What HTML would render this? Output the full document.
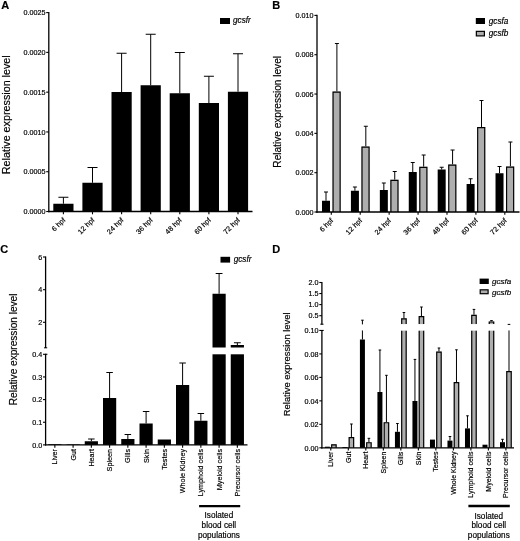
<!DOCTYPE html>
<html lang="en">
<head>
<meta charset="utf-8">
<title>Relative expression levels</title>
<style>
html,body{margin:0;padding:0;background:#fff;}
body{width:520px;height:541px;overflow:hidden;}
svg{display:block;}
svg text{font-family:'Liberation Sans', Arial, Helvetica, sans-serif;stroke:#000;stroke-width:0.18px;}
</style>
</head>
<body>
<svg width="520" height="541" viewBox="0 0 520 541" font-family='"Liberation Sans", Arial, Helvetica, sans-serif'>
<rect x="0" y="0" width="520" height="541" fill="#ffffff"/>
<text x="1.20" y="9.00" font-size="11" font-weight="bold" fill="#000">A</text>
<text x="9.70" y="114.75" font-size="10.75" text-anchor="middle" transform="rotate(-90 9.70 114.75)" fill="#000">Relative expression level</text>
<line x1="46.20" y1="211.50" x2="48.80" y2="211.50" stroke="#000" stroke-width="1.1"/>
<text x="45.40" y="214.20" font-size="7.2" text-anchor="end" fill="#000">0.0000</text>
<line x1="46.20" y1="171.72" x2="48.80" y2="171.72" stroke="#000" stroke-width="1.1"/>
<text x="45.40" y="174.42" font-size="7.2" text-anchor="end" fill="#000">0.0005</text>
<line x1="46.20" y1="131.94" x2="48.80" y2="131.94" stroke="#000" stroke-width="1.1"/>
<text x="45.40" y="134.64" font-size="7.2" text-anchor="end" fill="#000">0.0010</text>
<line x1="46.20" y1="92.16" x2="48.80" y2="92.16" stroke="#000" stroke-width="1.1"/>
<text x="45.40" y="94.86" font-size="7.2" text-anchor="end" fill="#000">0.0015</text>
<line x1="46.20" y1="52.38" x2="48.80" y2="52.38" stroke="#000" stroke-width="1.1"/>
<text x="45.40" y="55.08" font-size="7.2" text-anchor="end" fill="#000">0.0020</text>
<line x1="46.20" y1="12.60" x2="48.80" y2="12.60" stroke="#000" stroke-width="1.1"/>
<text x="45.40" y="15.30" font-size="7.2" text-anchor="end" fill="#000">0.0025</text>
<line x1="63.40" y1="203.75" x2="63.40" y2="197.25" stroke="#000" stroke-width="1.0"/>
<line x1="58.40" y1="197.25" x2="68.40" y2="197.25" stroke="#000" stroke-width="1.0"/>
<rect x="53.30" y="203.75" width="20.20" height="7.75" fill="#000"/>
<line x1="63.40" y1="211.50" x2="63.40" y2="214.30" stroke="#000" stroke-width="1.1"/>
<text x="65.80" y="220.50" font-size="7.2" text-anchor="end" transform="rotate(-45 65.80 220.50)" fill="#000">6 hpf</text>
<line x1="92.50" y1="182.75" x2="92.50" y2="167.50" stroke="#000" stroke-width="1.0"/>
<line x1="87.50" y1="167.50" x2="97.50" y2="167.50" stroke="#000" stroke-width="1.0"/>
<rect x="82.40" y="182.75" width="20.20" height="28.75" fill="#000"/>
<line x1="92.50" y1="211.50" x2="92.50" y2="214.30" stroke="#000" stroke-width="1.1"/>
<text x="94.90" y="220.50" font-size="7.2" text-anchor="end" transform="rotate(-45 94.90 220.50)" fill="#000">12 hpf</text>
<line x1="121.60" y1="92.00" x2="121.60" y2="53.25" stroke="#000" stroke-width="1.0"/>
<line x1="116.60" y1="53.25" x2="126.60" y2="53.25" stroke="#000" stroke-width="1.0"/>
<rect x="111.50" y="92.00" width="20.20" height="119.50" fill="#000"/>
<line x1="121.60" y1="211.50" x2="121.60" y2="214.30" stroke="#000" stroke-width="1.1"/>
<text x="124.00" y="220.50" font-size="7.2" text-anchor="end" transform="rotate(-45 124.00 220.50)" fill="#000">24 hpf</text>
<line x1="150.70" y1="85.25" x2="150.70" y2="34.25" stroke="#000" stroke-width="1.0"/>
<line x1="145.70" y1="34.25" x2="155.70" y2="34.25" stroke="#000" stroke-width="1.0"/>
<rect x="140.60" y="85.25" width="20.20" height="126.25" fill="#000"/>
<line x1="150.70" y1="211.50" x2="150.70" y2="214.30" stroke="#000" stroke-width="1.1"/>
<text x="153.10" y="220.50" font-size="7.2" text-anchor="end" transform="rotate(-45 153.10 220.50)" fill="#000">36 hpf</text>
<line x1="179.80" y1="93.25" x2="179.80" y2="52.50" stroke="#000" stroke-width="1.0"/>
<line x1="174.80" y1="52.50" x2="184.80" y2="52.50" stroke="#000" stroke-width="1.0"/>
<rect x="169.70" y="93.25" width="20.20" height="118.25" fill="#000"/>
<line x1="179.80" y1="211.50" x2="179.80" y2="214.30" stroke="#000" stroke-width="1.1"/>
<text x="182.20" y="220.50" font-size="7.2" text-anchor="end" transform="rotate(-45 182.20 220.50)" fill="#000">48 hpf</text>
<line x1="208.90" y1="103.00" x2="208.90" y2="76.25" stroke="#000" stroke-width="1.0"/>
<line x1="203.90" y1="76.25" x2="213.90" y2="76.25" stroke="#000" stroke-width="1.0"/>
<rect x="198.80" y="103.00" width="20.20" height="108.50" fill="#000"/>
<line x1="208.90" y1="211.50" x2="208.90" y2="214.30" stroke="#000" stroke-width="1.1"/>
<text x="211.30" y="220.50" font-size="7.2" text-anchor="end" transform="rotate(-45 211.30 220.50)" fill="#000">60 hpf</text>
<line x1="238.00" y1="91.75" x2="238.00" y2="53.75" stroke="#000" stroke-width="1.0"/>
<line x1="233.00" y1="53.75" x2="243.00" y2="53.75" stroke="#000" stroke-width="1.0"/>
<rect x="227.90" y="91.75" width="20.20" height="119.75" fill="#000"/>
<line x1="238.00" y1="211.50" x2="238.00" y2="214.30" stroke="#000" stroke-width="1.1"/>
<text x="240.40" y="220.50" font-size="7.2" text-anchor="end" transform="rotate(-45 240.40 220.50)" fill="#000">72 hpf</text>
<line x1="48.80" y1="12.05" x2="48.80" y2="212.15" stroke="#000" stroke-width="1.3"/>
<line x1="48.15" y1="211.50" x2="252.50" y2="211.50" stroke="#000" stroke-width="1.3"/>
<rect x="220.00" y="18.00" width="10.00" height="6.00" fill="#000"/>
<text x="233.00" y="23.30" font-size="8.2" font-style="italic" fill="#000">gcsfr</text>
<text x="272.30" y="9.00" font-size="11" font-weight="bold" fill="#000">B</text>
<text x="281.10" y="111.80" font-size="10.1" text-anchor="middle" transform="rotate(-90 281.10 111.80)" fill="#000">Relative expression level</text>
<line x1="314.40" y1="212.00" x2="317.00" y2="212.00" stroke="#000" stroke-width="1.1"/>
<text x="313.60" y="214.70" font-size="7.2" text-anchor="end" fill="#000">0.000</text>
<line x1="314.40" y1="172.68" x2="317.00" y2="172.68" stroke="#000" stroke-width="1.1"/>
<text x="313.60" y="175.38" font-size="7.2" text-anchor="end" fill="#000">0.002</text>
<line x1="314.40" y1="133.36" x2="317.00" y2="133.36" stroke="#000" stroke-width="1.1"/>
<text x="313.60" y="136.06" font-size="7.2" text-anchor="end" fill="#000">0.004</text>
<line x1="314.40" y1="94.04" x2="317.00" y2="94.04" stroke="#000" stroke-width="1.1"/>
<text x="313.60" y="96.74" font-size="7.2" text-anchor="end" fill="#000">0.006</text>
<line x1="314.40" y1="54.72" x2="317.00" y2="54.72" stroke="#000" stroke-width="1.1"/>
<text x="313.60" y="57.42" font-size="7.2" text-anchor="end" fill="#000">0.008</text>
<line x1="314.40" y1="15.40" x2="317.00" y2="15.40" stroke="#000" stroke-width="1.1"/>
<text x="313.60" y="18.10" font-size="7.2" text-anchor="end" fill="#000">0.010</text>
<line x1="326.00" y1="200.75" x2="326.00" y2="192.00" stroke="#000" stroke-width="1.0"/>
<line x1="324.00" y1="192.00" x2="328.00" y2="192.00" stroke="#000" stroke-width="1.0"/>
<rect x="322.00" y="200.75" width="8.00" height="11.25" fill="#000"/>
<line x1="336.90" y1="91.50" x2="336.90" y2="43.50" stroke="#000" stroke-width="1.0"/>
<line x1="334.90" y1="43.50" x2="338.90" y2="43.50" stroke="#000" stroke-width="1.0"/>
<rect x="332.50" y="91.50" width="8.20" height="120.50" fill="#aeaeae"/>
<path d="M333.07 212.00V92.08H340.12V212.00" fill="none" stroke="#000" stroke-width="1.15"/>
<line x1="331.30" y1="212.00" x2="331.30" y2="214.80" stroke="#000" stroke-width="1.1"/>
<text x="333.70" y="221.00" font-size="7.2" text-anchor="end" transform="rotate(-45 333.70 221.00)" fill="#000">6 hpf</text>
<line x1="354.92" y1="190.75" x2="354.92" y2="187.00" stroke="#000" stroke-width="1.0"/>
<line x1="352.92" y1="187.00" x2="356.92" y2="187.00" stroke="#000" stroke-width="1.0"/>
<rect x="350.92" y="190.75" width="8.00" height="21.25" fill="#000"/>
<line x1="365.82" y1="146.50" x2="365.82" y2="126.25" stroke="#000" stroke-width="1.0"/>
<line x1="363.82" y1="126.25" x2="367.82" y2="126.25" stroke="#000" stroke-width="1.0"/>
<rect x="361.42" y="146.50" width="8.20" height="65.50" fill="#aeaeae"/>
<path d="M362.00 212.00V147.07H369.05V212.00" fill="none" stroke="#000" stroke-width="1.15"/>
<line x1="360.22" y1="212.00" x2="360.22" y2="214.80" stroke="#000" stroke-width="1.1"/>
<text x="362.62" y="221.00" font-size="7.2" text-anchor="end" transform="rotate(-45 362.62 221.00)" fill="#000">12 hpf</text>
<line x1="383.84" y1="190.00" x2="383.84" y2="183.00" stroke="#000" stroke-width="1.0"/>
<line x1="381.84" y1="183.00" x2="385.84" y2="183.00" stroke="#000" stroke-width="1.0"/>
<rect x="379.84" y="190.00" width="8.00" height="22.00" fill="#000"/>
<line x1="394.74" y1="179.75" x2="394.74" y2="171.50" stroke="#000" stroke-width="1.0"/>
<line x1="392.74" y1="171.50" x2="396.74" y2="171.50" stroke="#000" stroke-width="1.0"/>
<rect x="390.34" y="179.75" width="8.20" height="32.25" fill="#aeaeae"/>
<path d="M390.92 212.00V180.32H397.97V212.00" fill="none" stroke="#000" stroke-width="1.15"/>
<line x1="389.14" y1="212.00" x2="389.14" y2="214.80" stroke="#000" stroke-width="1.1"/>
<text x="391.54" y="221.00" font-size="7.2" text-anchor="end" transform="rotate(-45 391.54 221.00)" fill="#000">24 hpf</text>
<line x1="412.76" y1="172.00" x2="412.76" y2="162.50" stroke="#000" stroke-width="1.0"/>
<line x1="410.76" y1="162.50" x2="414.76" y2="162.50" stroke="#000" stroke-width="1.0"/>
<rect x="408.76" y="172.00" width="8.00" height="40.00" fill="#000"/>
<line x1="423.66" y1="166.75" x2="423.66" y2="155.00" stroke="#000" stroke-width="1.0"/>
<line x1="421.66" y1="155.00" x2="425.66" y2="155.00" stroke="#000" stroke-width="1.0"/>
<rect x="419.26" y="166.75" width="8.20" height="45.25" fill="#aeaeae"/>
<path d="M419.83 212.00V167.32H426.88V212.00" fill="none" stroke="#000" stroke-width="1.15"/>
<line x1="418.06" y1="212.00" x2="418.06" y2="214.80" stroke="#000" stroke-width="1.1"/>
<text x="420.46" y="221.00" font-size="7.2" text-anchor="end" transform="rotate(-45 420.46 221.00)" fill="#000">36 hpf</text>
<line x1="441.68" y1="169.50" x2="441.68" y2="167.25" stroke="#000" stroke-width="1.0"/>
<line x1="439.68" y1="167.25" x2="443.68" y2="167.25" stroke="#000" stroke-width="1.0"/>
<rect x="437.68" y="169.50" width="8.00" height="42.50" fill="#000"/>
<line x1="452.58" y1="164.50" x2="452.58" y2="150.00" stroke="#000" stroke-width="1.0"/>
<line x1="450.58" y1="150.00" x2="454.58" y2="150.00" stroke="#000" stroke-width="1.0"/>
<rect x="448.18" y="164.50" width="8.20" height="47.50" fill="#aeaeae"/>
<path d="M448.75 212.00V165.07H455.81V212.00" fill="none" stroke="#000" stroke-width="1.15"/>
<line x1="446.98" y1="212.00" x2="446.98" y2="214.80" stroke="#000" stroke-width="1.1"/>
<text x="449.38" y="221.00" font-size="7.2" text-anchor="end" transform="rotate(-45 449.38 221.00)" fill="#000">48 hpf</text>
<line x1="470.60" y1="184.00" x2="470.60" y2="178.75" stroke="#000" stroke-width="1.0"/>
<line x1="468.60" y1="178.75" x2="472.60" y2="178.75" stroke="#000" stroke-width="1.0"/>
<rect x="466.60" y="184.00" width="8.00" height="28.00" fill="#000"/>
<line x1="481.50" y1="127.00" x2="481.50" y2="100.50" stroke="#000" stroke-width="1.0"/>
<line x1="479.50" y1="100.50" x2="483.50" y2="100.50" stroke="#000" stroke-width="1.0"/>
<rect x="477.10" y="127.00" width="8.20" height="85.00" fill="#aeaeae"/>
<path d="M477.68 212.00V127.58H484.73V212.00" fill="none" stroke="#000" stroke-width="1.15"/>
<line x1="475.90" y1="212.00" x2="475.90" y2="214.80" stroke="#000" stroke-width="1.1"/>
<text x="478.30" y="221.00" font-size="7.2" text-anchor="end" transform="rotate(-45 478.30 221.00)" fill="#000">60 hpf</text>
<line x1="499.52" y1="173.25" x2="499.52" y2="166.50" stroke="#000" stroke-width="1.0"/>
<line x1="497.52" y1="166.50" x2="501.52" y2="166.50" stroke="#000" stroke-width="1.0"/>
<rect x="495.52" y="173.25" width="8.00" height="38.75" fill="#000"/>
<line x1="510.42" y1="166.50" x2="510.42" y2="142.00" stroke="#000" stroke-width="1.0"/>
<line x1="508.42" y1="142.00" x2="512.42" y2="142.00" stroke="#000" stroke-width="1.0"/>
<rect x="506.02" y="166.50" width="8.20" height="45.50" fill="#aeaeae"/>
<path d="M506.59 212.00V167.07H513.64V212.00" fill="none" stroke="#000" stroke-width="1.15"/>
<line x1="504.82" y1="212.00" x2="504.82" y2="214.80" stroke="#000" stroke-width="1.1"/>
<text x="507.22" y="221.00" font-size="7.2" text-anchor="end" transform="rotate(-45 507.22 221.00)" fill="#000">72 hpf</text>
<line x1="317.00" y1="14.85" x2="317.00" y2="212.65" stroke="#000" stroke-width="1.3"/>
<line x1="316.35" y1="212.00" x2="519.50" y2="212.00" stroke="#000" stroke-width="1.3"/>
<rect x="475.80" y="18.00" width="9.20" height="6.00" fill="#000"/>
<text x="488.80" y="23.50" font-size="8.2" font-style="italic" fill="#000">gcsfa</text>
<rect x="476.35" y="31.35" width="8.05" height="4.55" fill="#aeaeae" stroke="#000" stroke-width="1.2"/>
<text x="488.80" y="36.20" font-size="8.2" font-style="italic" fill="#000">gcsfb</text>
<text x="0.30" y="253.40" font-size="11" font-weight="bold" fill="#000">C</text>
<text x="17.20" y="349.40" font-size="10.1" text-anchor="middle" transform="rotate(-90 17.20 349.40)" fill="#000">Relative expression level</text>
<line x1="43.00" y1="444.90" x2="45.60" y2="444.90" stroke="#000" stroke-width="1.1"/>
<text x="42.20" y="447.60" font-size="7.2" text-anchor="end" fill="#000">0.0</text>
<line x1="43.00" y1="422.25" x2="45.60" y2="422.25" stroke="#000" stroke-width="1.1"/>
<text x="42.20" y="424.95" font-size="7.2" text-anchor="end" fill="#000">0.1</text>
<line x1="43.00" y1="399.60" x2="45.60" y2="399.60" stroke="#000" stroke-width="1.1"/>
<text x="42.20" y="402.30" font-size="7.2" text-anchor="end" fill="#000">0.2</text>
<line x1="43.00" y1="376.95" x2="45.60" y2="376.95" stroke="#000" stroke-width="1.1"/>
<text x="42.20" y="379.65" font-size="7.2" text-anchor="end" fill="#000">0.3</text>
<line x1="43.00" y1="354.30" x2="45.60" y2="354.30" stroke="#000" stroke-width="1.1"/>
<text x="42.20" y="357.00" font-size="7.2" text-anchor="end" fill="#000">0.4</text>
<line x1="43.00" y1="257.00" x2="45.60" y2="257.00" stroke="#000" stroke-width="1.1"/>
<text x="42.20" y="259.70" font-size="7.2" text-anchor="end" fill="#000">6</text>
<line x1="43.00" y1="289.70" x2="45.60" y2="289.70" stroke="#000" stroke-width="1.1"/>
<text x="42.20" y="292.40" font-size="7.2" text-anchor="end" fill="#000">4</text>
<line x1="43.00" y1="322.30" x2="45.60" y2="322.30" stroke="#000" stroke-width="1.1"/>
<text x="42.20" y="325.00" font-size="7.2" text-anchor="end" fill="#000">2</text>
<rect x="48.25" y="444.20" width="13.20" height="0.70" fill="#000"/>
<line x1="54.85" y1="444.90" x2="54.85" y2="447.70" stroke="#000" stroke-width="1.1"/>
<text x="57.45" y="449.00" font-size="7.2" text-anchor="end" transform="rotate(-90 57.45 449.00)" fill="#000">Liver</text>
<rect x="66.50" y="444.40" width="13.20" height="0.50" fill="#000"/>
<line x1="73.10" y1="444.90" x2="73.10" y2="447.70" stroke="#000" stroke-width="1.1"/>
<text x="75.70" y="449.00" font-size="7.2" text-anchor="end" transform="rotate(-90 75.70 449.00)" fill="#000">Gut</text>
<line x1="91.35" y1="441.25" x2="91.35" y2="439.00" stroke="#000" stroke-width="1.0"/>
<line x1="88.10" y1="439.00" x2="94.60" y2="439.00" stroke="#000" stroke-width="1.0"/>
<rect x="84.75" y="441.25" width="13.20" height="3.65" fill="#000"/>
<line x1="91.35" y1="444.90" x2="91.35" y2="447.70" stroke="#000" stroke-width="1.1"/>
<text x="93.95" y="449.00" font-size="7.2" text-anchor="end" transform="rotate(-90 93.95 449.00)" fill="#000">Heart</text>
<line x1="109.60" y1="398.00" x2="109.60" y2="372.50" stroke="#000" stroke-width="1.0"/>
<line x1="106.35" y1="372.50" x2="112.85" y2="372.50" stroke="#000" stroke-width="1.0"/>
<rect x="103.00" y="398.00" width="13.20" height="46.90" fill="#000"/>
<line x1="109.60" y1="444.90" x2="109.60" y2="447.70" stroke="#000" stroke-width="1.1"/>
<text x="112.20" y="449.00" font-size="7.2" text-anchor="end" transform="rotate(-90 112.20 449.00)" fill="#000">Spleen</text>
<line x1="127.85" y1="439.00" x2="127.85" y2="434.50" stroke="#000" stroke-width="1.0"/>
<line x1="124.60" y1="434.50" x2="131.10" y2="434.50" stroke="#000" stroke-width="1.0"/>
<rect x="121.25" y="439.00" width="13.20" height="5.90" fill="#000"/>
<line x1="127.85" y1="444.90" x2="127.85" y2="447.70" stroke="#000" stroke-width="1.1"/>
<text x="130.45" y="449.00" font-size="7.2" text-anchor="end" transform="rotate(-90 130.45 449.00)" fill="#000">Gills</text>
<line x1="146.10" y1="423.50" x2="146.10" y2="411.50" stroke="#000" stroke-width="1.0"/>
<line x1="142.85" y1="411.50" x2="149.35" y2="411.50" stroke="#000" stroke-width="1.0"/>
<rect x="139.50" y="423.50" width="13.20" height="21.40" fill="#000"/>
<line x1="146.10" y1="444.90" x2="146.10" y2="447.70" stroke="#000" stroke-width="1.1"/>
<text x="148.70" y="449.00" font-size="7.2" text-anchor="end" transform="rotate(-90 148.70 449.00)" fill="#000">Skin</text>
<rect x="157.75" y="439.50" width="13.20" height="5.40" fill="#000"/>
<line x1="164.35" y1="444.90" x2="164.35" y2="447.70" stroke="#000" stroke-width="1.1"/>
<text x="166.95" y="449.00" font-size="7.2" text-anchor="end" transform="rotate(-90 166.95 449.00)" fill="#000">Testes</text>
<line x1="182.60" y1="385.00" x2="182.60" y2="363.00" stroke="#000" stroke-width="1.0"/>
<line x1="179.35" y1="363.00" x2="185.85" y2="363.00" stroke="#000" stroke-width="1.0"/>
<rect x="176.00" y="385.00" width="13.20" height="59.90" fill="#000"/>
<line x1="182.60" y1="444.90" x2="182.60" y2="447.70" stroke="#000" stroke-width="1.1"/>
<text x="185.20" y="449.00" font-size="7.2" text-anchor="end" transform="rotate(-90 185.20 449.00)" fill="#000">Whole Kidney</text>
<line x1="200.85" y1="420.75" x2="200.85" y2="413.50" stroke="#000" stroke-width="1.0"/>
<line x1="197.60" y1="413.50" x2="204.10" y2="413.50" stroke="#000" stroke-width="1.0"/>
<rect x="194.25" y="420.75" width="13.20" height="24.15" fill="#000"/>
<line x1="200.85" y1="444.90" x2="200.85" y2="447.70" stroke="#000" stroke-width="1.1"/>
<text x="203.45" y="449.00" font-size="7.2" text-anchor="end" transform="rotate(-90 203.45 449.00)" fill="#000">Lymphoid cells</text>
<line x1="219.10" y1="444.90" x2="219.10" y2="447.70" stroke="#000" stroke-width="1.1"/>
<text x="221.70" y="449.00" font-size="7.2" text-anchor="end" transform="rotate(-90 221.70 449.00)" fill="#000">Myeloid cells</text>
<line x1="237.35" y1="444.90" x2="237.35" y2="447.70" stroke="#000" stroke-width="1.1"/>
<text x="239.95" y="449.00" font-size="7.2" text-anchor="end" transform="rotate(-90 239.95 449.00)" fill="#000">Precursor cells</text>
<line x1="219.10" y1="293.75" x2="219.10" y2="273.50" stroke="#000" stroke-width="1.0"/>
<line x1="215.70" y1="273.50" x2="222.50" y2="273.50" stroke="#000" stroke-width="1.0"/>
<rect x="212.50" y="293.75" width="13.20" height="53.75" fill="#000"/>
<rect x="212.50" y="354.30" width="13.20" height="90.60" fill="#000"/>
<line x1="237.35" y1="345.00" x2="237.35" y2="342.75" stroke="#000" stroke-width="1.0"/>
<line x1="233.95" y1="342.75" x2="240.75" y2="342.75" stroke="#000" stroke-width="1.0"/>
<rect x="230.75" y="345.00" width="13.20" height="2.50" fill="#000"/>
<rect x="230.75" y="354.30" width="13.20" height="90.60" fill="#000"/>
<line x1="45.60" y1="256.45" x2="45.60" y2="348.00" stroke="#000" stroke-width="1.3"/>
<line x1="44.00" y1="347.80" x2="47.20" y2="347.80" stroke="#000" stroke-width="1.0"/>
<line x1="45.60" y1="353.75" x2="45.60" y2="445.55" stroke="#000" stroke-width="1.3"/>
<line x1="45.60" y1="354.30" x2="47.40" y2="354.30" stroke="#000" stroke-width="1.1"/>
<line x1="44.95" y1="444.90" x2="247.50" y2="444.90" stroke="#000" stroke-width="1.3"/>
<rect x="220.50" y="256.80" width="9.60" height="5.80" fill="#000"/>
<text x="233.70" y="262.00" font-size="8.2" font-style="italic" fill="#000">gcsfr</text>
<line x1="199.10" y1="506.20" x2="240.20" y2="506.20" stroke="#000" stroke-width="2.3"/>
<text x="218.90" y="518.20" font-size="8.2" text-anchor="middle" fill="#000">Isolated</text>
<text x="218.90" y="527.90" font-size="8.2" text-anchor="middle" fill="#000">blood cell</text>
<text x="218.90" y="537.60" font-size="8.2" text-anchor="middle" fill="#000">populations</text>
<text x="272.30" y="253.40" font-size="11" font-weight="bold" fill="#000">D</text>
<text x="290.30" y="364.30" font-size="9.4" text-anchor="middle" transform="rotate(-90 290.30 364.30)" fill="#000">Relative expression level</text>
<line x1="319.30" y1="447.80" x2="321.90" y2="447.80" stroke="#000" stroke-width="1.1"/>
<text x="318.50" y="450.50" font-size="7.2" text-anchor="end" fill="#000">0.00</text>
<line x1="319.30" y1="424.33" x2="321.90" y2="424.33" stroke="#000" stroke-width="1.1"/>
<text x="318.50" y="427.03" font-size="7.2" text-anchor="end" fill="#000">0.02</text>
<line x1="319.30" y1="400.86" x2="321.90" y2="400.86" stroke="#000" stroke-width="1.1"/>
<text x="318.50" y="403.56" font-size="7.2" text-anchor="end" fill="#000">0.04</text>
<line x1="319.30" y1="377.39" x2="321.90" y2="377.39" stroke="#000" stroke-width="1.1"/>
<text x="318.50" y="380.09" font-size="7.2" text-anchor="end" fill="#000">0.06</text>
<line x1="319.30" y1="353.92" x2="321.90" y2="353.92" stroke="#000" stroke-width="1.1"/>
<text x="318.50" y="356.62" font-size="7.2" text-anchor="end" fill="#000">0.08</text>
<line x1="319.30" y1="330.45" x2="321.90" y2="330.45" stroke="#000" stroke-width="1.1"/>
<text x="318.50" y="333.15" font-size="7.2" text-anchor="end" fill="#000">0.10</text>
<line x1="319.30" y1="282.50" x2="321.90" y2="282.50" stroke="#000" stroke-width="1.1"/>
<text x="318.50" y="285.20" font-size="7.2" text-anchor="end" fill="#000">2.0</text>
<line x1="319.30" y1="293.55" x2="321.90" y2="293.55" stroke="#000" stroke-width="1.1"/>
<text x="318.50" y="296.25" font-size="7.2" text-anchor="end" fill="#000">1.5</text>
<line x1="319.30" y1="304.60" x2="321.90" y2="304.60" stroke="#000" stroke-width="1.1"/>
<text x="318.50" y="307.30" font-size="7.2" text-anchor="end" fill="#000">1.0</text>
<line x1="319.30" y1="315.70" x2="321.90" y2="315.70" stroke="#000" stroke-width="1.1"/>
<text x="318.50" y="318.40" font-size="7.2" text-anchor="end" fill="#000">0.5</text>
<rect x="324.90" y="446.70" width="5.00" height="1.10" fill="#000"/>
<rect x="331.10" y="444.30" width="5.60" height="3.50" fill="#aeaeae"/>
<path d="M331.67 447.80V444.88H336.12V447.80" fill="none" stroke="#000" stroke-width="1.15"/>
<line x1="330.80" y1="447.80" x2="330.80" y2="450.60" stroke="#000" stroke-width="1.1"/>
<text x="333.30" y="451.60" font-size="7.0" text-anchor="end" transform="rotate(-90 333.30 451.60)" fill="#000">Liver</text>
<rect x="342.41" y="447.00" width="5.00" height="0.80" fill="#000"/>
<line x1="351.41" y1="437.00" x2="351.41" y2="424.00" stroke="#000" stroke-width="1.0"/>
<line x1="350.11" y1="424.00" x2="352.71" y2="424.00" stroke="#000" stroke-width="1.0"/>
<rect x="348.61" y="437.00" width="5.60" height="10.80" fill="#aeaeae"/>
<path d="M349.18 447.80V437.57H353.63V447.80" fill="none" stroke="#000" stroke-width="1.15"/>
<line x1="348.31" y1="447.80" x2="348.31" y2="450.60" stroke="#000" stroke-width="1.1"/>
<text x="350.81" y="451.60" font-size="7.0" text-anchor="end" transform="rotate(-90 350.81 451.60)" fill="#000">Gut</text>
<line x1="362.42" y1="339.50" x2="362.42" y2="330.45" stroke="#000" stroke-width="1.0"/>
<line x1="362.42" y1="324.40" x2="362.42" y2="320.20" stroke="#000" stroke-width="1.0"/>
<line x1="361.12" y1="320.20" x2="363.72" y2="320.20" stroke="#000" stroke-width="1.0"/>
<rect x="359.92" y="339.50" width="5.00" height="108.30" fill="#000"/>
<line x1="368.92" y1="442.20" x2="368.92" y2="438.30" stroke="#000" stroke-width="1.0"/>
<line x1="367.62" y1="438.30" x2="370.22" y2="438.30" stroke="#000" stroke-width="1.0"/>
<rect x="366.12" y="442.20" width="5.60" height="5.60" fill="#aeaeae"/>
<path d="M366.69 447.80V442.77H371.14V447.80" fill="none" stroke="#000" stroke-width="1.15"/>
<line x1="365.82" y1="447.80" x2="365.82" y2="450.60" stroke="#000" stroke-width="1.1"/>
<text x="368.32" y="451.60" font-size="7.0" text-anchor="end" transform="rotate(-90 368.32 451.60)" fill="#000">Heart</text>
<line x1="379.93" y1="392.00" x2="379.93" y2="350.00" stroke="#000" stroke-width="1.0"/>
<line x1="378.63" y1="350.00" x2="381.23" y2="350.00" stroke="#000" stroke-width="1.0"/>
<rect x="377.43" y="392.00" width="5.00" height="55.80" fill="#000"/>
<line x1="386.43" y1="422.20" x2="386.43" y2="375.30" stroke="#000" stroke-width="1.0"/>
<line x1="385.13" y1="375.30" x2="387.73" y2="375.30" stroke="#000" stroke-width="1.0"/>
<rect x="383.63" y="422.20" width="5.60" height="25.60" fill="#aeaeae"/>
<path d="M384.20 447.80V422.77H388.65V447.80" fill="none" stroke="#000" stroke-width="1.15"/>
<line x1="383.33" y1="447.80" x2="383.33" y2="450.60" stroke="#000" stroke-width="1.1"/>
<text x="385.83" y="451.60" font-size="7.0" text-anchor="end" transform="rotate(-90 385.83 451.60)" fill="#000">Spleen</text>
<line x1="397.44" y1="431.80" x2="397.44" y2="423.50" stroke="#000" stroke-width="1.0"/>
<line x1="396.14" y1="423.50" x2="398.74" y2="423.50" stroke="#000" stroke-width="1.0"/>
<rect x="394.94" y="431.80" width="5.00" height="16.00" fill="#000"/>
<rect x="401.14" y="330.65" width="5.60" height="117.15" fill="#aeaeae"/>
<path d="M401.71 330.65V447.80M406.16 330.65V447.80" fill="none" stroke="#000" stroke-width="1.15"/>
<line x1="403.94" y1="318.30" x2="403.94" y2="312.50" stroke="#000" stroke-width="1.0"/>
<line x1="402.64" y1="312.50" x2="405.24" y2="312.50" stroke="#000" stroke-width="1.0"/>
<rect x="401.14" y="318.30" width="5.60" height="5.80" fill="#aeaeae"/>
<path d="M401.71 324.10V318.88H406.16V324.10" fill="none" stroke="#000" stroke-width="1.15"/>
<line x1="400.84" y1="447.80" x2="400.84" y2="450.60" stroke="#000" stroke-width="1.1"/>
<text x="403.34" y="451.60" font-size="7.0" text-anchor="end" transform="rotate(-90 403.34 451.60)" fill="#000">Gills</text>
<line x1="414.95" y1="401.00" x2="414.95" y2="359.40" stroke="#000" stroke-width="1.0"/>
<line x1="413.65" y1="359.40" x2="416.25" y2="359.40" stroke="#000" stroke-width="1.0"/>
<rect x="412.45" y="401.00" width="5.00" height="46.80" fill="#000"/>
<rect x="418.65" y="330.65" width="5.60" height="117.15" fill="#aeaeae"/>
<path d="M419.22 330.65V447.80M423.67 330.65V447.80" fill="none" stroke="#000" stroke-width="1.15"/>
<line x1="421.45" y1="316.00" x2="421.45" y2="307.00" stroke="#000" stroke-width="1.0"/>
<line x1="420.15" y1="307.00" x2="422.75" y2="307.00" stroke="#000" stroke-width="1.0"/>
<rect x="418.65" y="316.00" width="5.60" height="8.10" fill="#aeaeae"/>
<path d="M419.22 324.10V316.57H423.67V324.10" fill="none" stroke="#000" stroke-width="1.15"/>
<line x1="418.35" y1="447.80" x2="418.35" y2="450.60" stroke="#000" stroke-width="1.1"/>
<text x="420.85" y="451.60" font-size="7.0" text-anchor="end" transform="rotate(-90 420.85 451.60)" fill="#000">Skin</text>
<rect x="429.96" y="439.60" width="5.00" height="8.20" fill="#000"/>
<line x1="438.96" y1="351.60" x2="438.96" y2="348.00" stroke="#000" stroke-width="1.0"/>
<line x1="437.66" y1="348.00" x2="440.26" y2="348.00" stroke="#000" stroke-width="1.0"/>
<rect x="436.16" y="351.60" width="5.60" height="96.20" fill="#aeaeae"/>
<path d="M436.73 447.80V352.18H441.18V447.80" fill="none" stroke="#000" stroke-width="1.15"/>
<line x1="435.86" y1="447.80" x2="435.86" y2="450.60" stroke="#000" stroke-width="1.1"/>
<text x="438.36" y="451.60" font-size="7.0" text-anchor="end" transform="rotate(-90 438.36 451.60)" fill="#000">Testes</text>
<line x1="449.97" y1="440.60" x2="449.97" y2="436.50" stroke="#000" stroke-width="1.0"/>
<line x1="448.67" y1="436.50" x2="451.27" y2="436.50" stroke="#000" stroke-width="1.0"/>
<rect x="447.47" y="440.60" width="5.00" height="7.20" fill="#000"/>
<line x1="456.47" y1="382.10" x2="456.47" y2="349.80" stroke="#000" stroke-width="1.0"/>
<line x1="455.17" y1="349.80" x2="457.77" y2="349.80" stroke="#000" stroke-width="1.0"/>
<rect x="453.67" y="382.10" width="5.60" height="65.70" fill="#aeaeae"/>
<path d="M454.24 447.80V382.68H458.69V447.80" fill="none" stroke="#000" stroke-width="1.15"/>
<line x1="453.37" y1="447.80" x2="453.37" y2="450.60" stroke="#000" stroke-width="1.1"/>
<text x="455.87" y="451.60" font-size="7.0" text-anchor="end" transform="rotate(-90 455.87 451.60)" fill="#000">Whole Kidney</text>
<line x1="467.48" y1="428.40" x2="467.48" y2="415.80" stroke="#000" stroke-width="1.0"/>
<line x1="466.18" y1="415.80" x2="468.78" y2="415.80" stroke="#000" stroke-width="1.0"/>
<rect x="464.98" y="428.40" width="5.00" height="19.40" fill="#000"/>
<rect x="471.18" y="330.65" width="5.60" height="117.15" fill="#aeaeae"/>
<path d="M471.75 330.65V447.80M476.20 330.65V447.80" fill="none" stroke="#000" stroke-width="1.15"/>
<line x1="473.98" y1="314.80" x2="473.98" y2="309.40" stroke="#000" stroke-width="1.0"/>
<line x1="472.68" y1="309.40" x2="475.28" y2="309.40" stroke="#000" stroke-width="1.0"/>
<rect x="471.18" y="314.80" width="5.60" height="9.30" fill="#aeaeae"/>
<path d="M471.75 324.10V315.38H476.20V324.10" fill="none" stroke="#000" stroke-width="1.15"/>
<line x1="470.88" y1="447.80" x2="470.88" y2="450.60" stroke="#000" stroke-width="1.1"/>
<text x="473.38" y="451.60" font-size="7.0" text-anchor="end" transform="rotate(-90 473.38 451.60)" fill="#000">Lymphoid cells</text>
<rect x="482.49" y="444.70" width="5.00" height="3.10" fill="#000"/>
<rect x="488.69" y="330.65" width="5.60" height="117.15" fill="#aeaeae"/>
<path d="M489.26 330.65V447.80M493.71 330.65V447.80" fill="none" stroke="#000" stroke-width="1.15"/>
<line x1="491.49" y1="321.40" x2="491.49" y2="320.60" stroke="#000" stroke-width="1.0"/>
<line x1="490.19" y1="320.60" x2="492.79" y2="320.60" stroke="#000" stroke-width="1.0"/>
<rect x="488.69" y="321.40" width="5.60" height="2.70" fill="#aeaeae"/>
<path d="M489.26 324.10V321.97H493.71V324.10" fill="none" stroke="#000" stroke-width="1.15"/>
<line x1="488.39" y1="447.80" x2="488.39" y2="450.60" stroke="#000" stroke-width="1.1"/>
<text x="490.89" y="451.60" font-size="7.0" text-anchor="end" transform="rotate(-90 490.89 451.60)" fill="#000">Myeloid cells</text>
<line x1="502.50" y1="442.20" x2="502.50" y2="439.30" stroke="#000" stroke-width="1.0"/>
<line x1="501.20" y1="439.30" x2="503.80" y2="439.30" stroke="#000" stroke-width="1.0"/>
<rect x="500.00" y="442.20" width="5.00" height="5.60" fill="#000"/>
<line x1="509.00" y1="371.00" x2="509.00" y2="330.45" stroke="#000" stroke-width="1.0"/>
<line x1="507.70" y1="324.40" x2="510.30" y2="324.40" stroke="#000" stroke-width="1.0"/>
<rect x="506.20" y="371.00" width="5.60" height="76.80" fill="#aeaeae"/>
<path d="M506.77 447.80V371.57H511.22V447.80" fill="none" stroke="#000" stroke-width="1.15"/>
<line x1="505.90" y1="447.80" x2="505.90" y2="450.60" stroke="#000" stroke-width="1.1"/>
<text x="508.40" y="451.60" font-size="7.0" text-anchor="end" transform="rotate(-90 508.40 451.60)" fill="#000">Precursor cells</text>
<line x1="321.90" y1="281.95" x2="321.90" y2="324.40" stroke="#000" stroke-width="1.3"/>
<line x1="320.30" y1="324.20" x2="323.50" y2="324.20" stroke="#000" stroke-width="1.0"/>
<line x1="321.90" y1="329.90" x2="321.90" y2="448.45" stroke="#000" stroke-width="1.3"/>
<line x1="321.90" y1="330.45" x2="323.70" y2="330.45" stroke="#000" stroke-width="1.1"/>
<line x1="321.25" y1="447.80" x2="514.00" y2="447.80" stroke="#000" stroke-width="1.3"/>
<rect x="479.60" y="278.60" width="9.20" height="5.40" fill="#000"/>
<text x="492.00" y="284.00" font-size="8.0" font-style="italic" fill="#000">gcsfa</text>
<rect x="480.20" y="289.80" width="7.90" height="3.90" fill="#aeaeae" stroke="#000" stroke-width="1.2"/>
<text x="492.00" y="294.80" font-size="8.0" font-style="italic" fill="#000">gcsfb</text>
<line x1="468.40" y1="506.00" x2="509.80" y2="506.00" stroke="#000" stroke-width="2.3"/>
<text x="488.80" y="518.60" font-size="8.2" text-anchor="middle" fill="#000">Isolated</text>
<text x="488.80" y="528.35" font-size="8.2" text-anchor="middle" fill="#000">blood cell</text>
<text x="488.80" y="538.10" font-size="8.2" text-anchor="middle" fill="#000">populations</text>
</svg>
</body>
</html>
